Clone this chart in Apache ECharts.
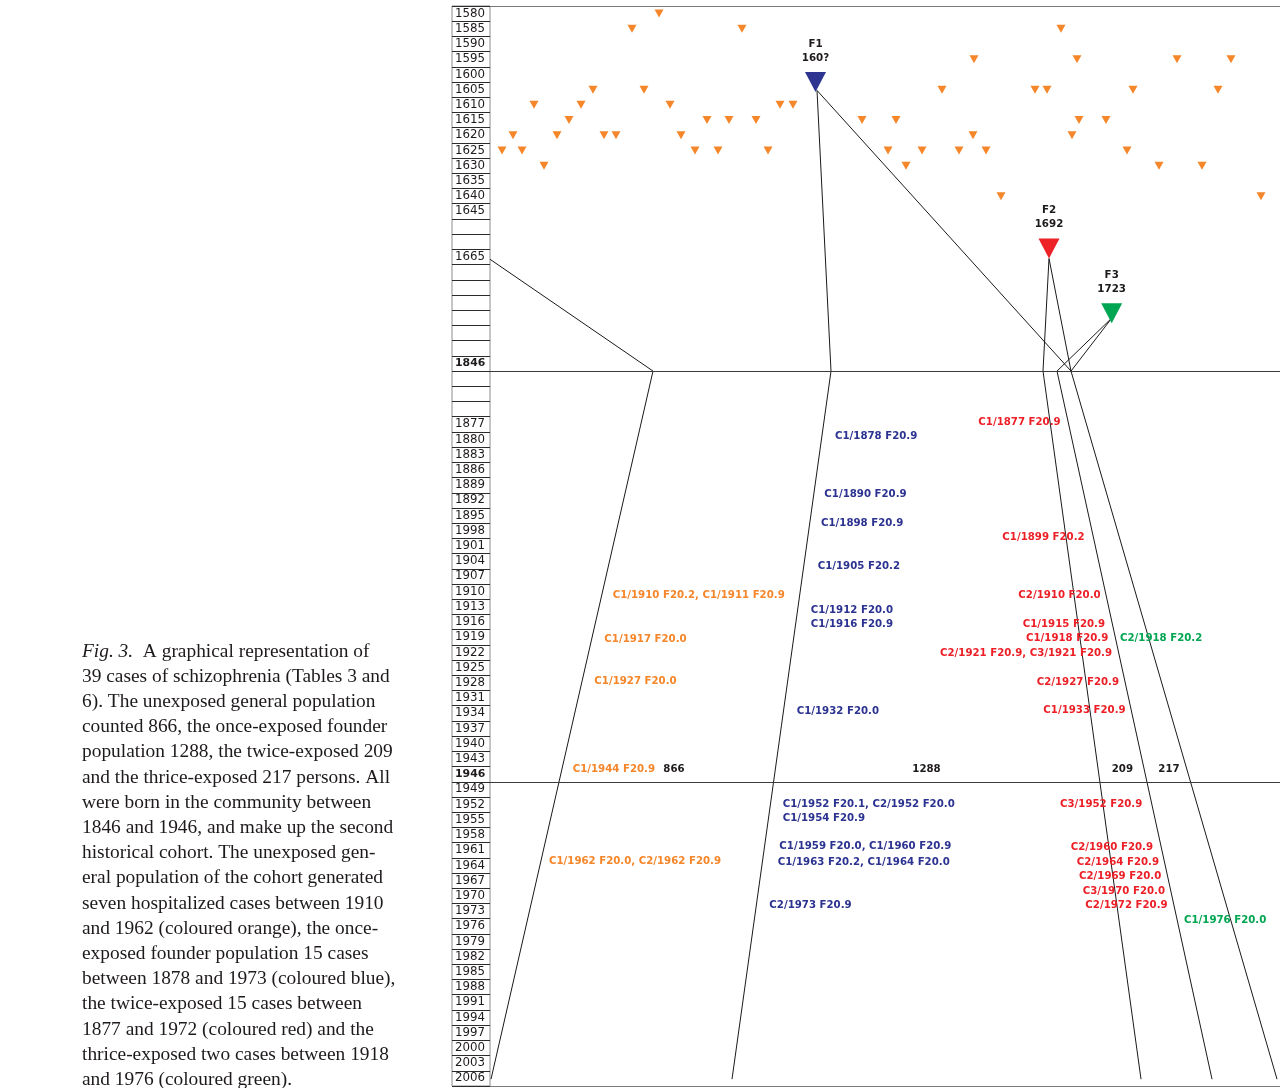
<!DOCTYPE html>
<html>
<head>
<meta charset="utf-8">
<script src="https://cdn.jsdelivr.net/npm/echarts@6/dist/echarts.min.js"></script>
<style>
html,body{margin:0;padding:0;background:#fff;}
#c{width:1280px;height:1088px;}
</style>
</head>
<body>
<div id="c"></div>
<script>
// ---- Row labels of the time column (blank = unlabelled row) ----
const yearLabels = ['1580','1585','1590','1595','1600','1605','1610','1615','1620','1625','1630','1635','1640','1645','','','1665','','','','','','','1846','','','','1877','1880','1883','1886','1889','1892','1895','1998','1901','1904','1907','1910','1913','1916','1919','1922','1925','1928','1931','1934','1937','1940','1943','1946','1949','1952','1955','1958','1961','1964','1967','1970','1973','1976','1979','1982','1985','1988','1991','1994','1997','2000','2003','2006'];
const boldYears = ['1846','1946'];

// ---- Ancestors (orange triangles): [horizontal position, row index] ----
const ancestors = [
  [169,0],
  [142,1],[252,1],[571,1],
  [484,3],[587,3],[687,3],[741,3],
  [103,5],[154,5],[452,5],[545,5],[557,5],[643,5],[728,5],
  [44,6],[91,6],[180,6],[290,6],[303,6],
  [79,7],[217,7],[239,7],[266,7],[372,7],[406,7],[589,7],[616,7],
  [23,8],[67,8],[114,8],[126,8],[191,8],[483,8],[582,8],
  [12,9],[32,9],[205,9],[228,9],[278,9],[398,9],[432,9],[469,9],[496,9],[637,9],
  [54,10],[416,10],[669,10],[712,10],
  [511,12],[771,12]
];

// ---- Founders ----
const founderNames = ['F1','F2','F3'];
const founderYears = ['160?','1692','1723'];
const founderPos = [[325.5,4.5],[559,15.45],[621.7,19.7]];
const founderColors = ['#2D3590','#EC2227','#00A651'];

// ---- Lineage lines: [horizontal position, row index] ----
const lineagePaths = [
  [[0,16.15],[163,23.5],[1,70.05]],        // unexposed population
  [[327,5.05],[341,23.5],[242,70.05]],     // F1 -> once exposed
  [[327,5.05],[581,23.5]],                 // F1 -> thrice
  [[559,16.1],[553,23.5]],                 // F2 -> twice
  [[559,16.1],[581,23.5]],                 // F2 -> thrice
  [[622,20.0],[567,23.5]],                 // F3 -> twice
  [[622,20.0],[581,23.5]],                 // F3 -> thrice
  [[553,23.5],[651,70.05]],
  [[567,23.5],[722,70.05]],
  [[581,23.5],[787,70.05]]
];

// ---- Cases: [horizontal position of text start, row index, text] ----
const unexposedCases = [
  [122.7,38.22,'C1/1910 F20.2, C1/1911 F20.9'],
  [114.3,41.11,'C1/1917 F20.0'],
  [104.3,43.92,'C1/1927 F20.0'],
  [82.7,49.66,'C1/1944 F20.9'],
  [59,55.75,'C1/1962 F20.0, C2/1962 F20.9']
];
const onceCases = [
  [345,27.81,'C1/1878 F20.9'],
  [334.3,31.6,'C1/1890 F20.9'],
  [331,33.51,'C1/1898 F20.9'],
  [327.7,36.31,'C1/1905 F20.2'],
  [320.7,39.21,'C1/1912 F20.0'],
  [320.7,40.13,'C1/1916 F20.9'],
  [306.7,45.85,'C1/1932 F20.0'],
  [292.7,51.98,'C1/1952 F20.1, C2/1952 F20.0'],
  [292.7,52.9,'C1/1954 F20.9'],
  [289.3,54.77,'C1/1959 F20.0, C1/1960 F20.9'],
  [287.7,55.77,'C1/1963 F20.2, C1/1964 F20.0'],
  [279.3,58.62,'C2/1973 F20.9']
];
const twiceCases = [
  [488.3,26.87,'C1/1877 F20.9'],
  [512.3,34.45,'C1/1899 F20.2'],
  [528.3,38.27,'C2/1910 F20.0'],
  [532.7,40.15,'C1/1915 F20.9'],
  [536,41.09,'C1/1918 F20.9'],
  [450,42.05,'C2/1921 F20.9, C3/1921 F20.9'],
  [546.7,43.96,'C2/1927 F20.9'],
  [553.3,45.83,'C1/1933 F20.9'],
  [570,51.98,'C3/1952 F20.9'],
  [580.7,54.83,'C2/1960 F20.9'],
  [586.7,55.77,'C2/1964 F20.9'],
  [589,56.71,'C2/1969 F20.0'],
  [592.7,57.68,'C3/1970 F20.0'],
  [595.3,58.6,'C2/1972 F20.9']
];
const thriceCases = [
  [630,41.09,'C2/1918 F20.2'],
  [694,59.59,'C1/1976 F20.0']
];
// ---- Population sizes (row 1946) ----
const populationCounts = [[173.3,49.66,'866'],[422.3,49.66,'1288'],[621.7,49.66,'209'],[668.3,49.66,'217']];

const caption = [
  '{i|Fig. 3.}  A graphical representation of',
  '39 cases of schizophrenia (Tables 3 and',
  '6). The unexposed general population',
  'counted 866, the once-exposed founder',
  'population 1288, the twice-exposed 209',
  'and the thrice-exposed 217 persons. All',
  'were born in the community between',
  '1846 and 1946, and make up the second',
  'historical cohort. The unexposed gen-',
  'eral population of the cohort generated',
  'seven hospitalized cases between 1910',
  'and 1962 (coloured orange), the once-',
  'exposed founder population 15 cases',
  'between 1878 and 1973 (coloured blue),',
  'the twice-exposed 15 cases between',
  '1877 and 1972 (coloured red) and the',
  'thrice-exposed two cases between 1918',
  'and 1976 (coloured green).'
];

const ORANGE = '#F5862A', BLUE = '#2B3290', RED = '#EC1F26', GREEN = '#00A651', INK = '#1e1a1b';
const LF = 'DejaVu Sans';
const caseFont = 10.2;

function caseSeries(name, arr, color) {
  return {
    name, type: 'scatter', xAxisIndex: 1, yAxisIndex: 1, silent: true, z: 5,
    symbolSize: 0.1, itemStyle: {color: 'rgba(0,0,0,0)', opacity: 1},
    data: arr.map(d => ({value: [d[0], d[1]], name: d[2]})),
    label: {show: true, position: 'right', distance: 0, formatter: '{b}', opacity: 1,
      color, fontFamily: LF, fontWeight: 'bold', fontSize: caseFont}
  };
}

const dividers = boldYears.map(y => yearLabels.indexOf(y) + 0.5);
const frameEdges = [-0.5, yearLabels.length - 0.5];

const chart = echarts.init(document.getElementById('c'), null, {renderer: 'canvas', width: 1280, height: 1088});
chart.setOption({
  animation: false,
  backgroundColor: '#fff',
  grid: [
    {left: 452, top: 6, width: 38, height: 1080, show: true, borderColor: '#8c8c8c', borderWidth: 1},
    {left: 490, top: 6, width: 790, height: 1080, show: false}
  ],
  xAxis: [
    {gridIndex: 0, type: 'value', show: false, min: 0, max: 1},
    {gridIndex: 1, type: 'value', show: false, min: 0, max: 790}
  ],
  yAxis: [
    {gridIndex: 0, type: 'category', inverse: true,
     data: yearLabels.map((_, i) => 'row' + i),
     axisLine: {show: false}, axisTick: {show: false},
     splitLine: {show: true, interval: 0, lineStyle: {color: '#2b2b2b', width: 1}},
     axisLabel: {inside: true, interval: 0, margin: 3, color: INK, fontFamily: LF, fontSize: 11.8,
       formatter: v => { const l = yearLabels[+v.slice(3)]; return boldYears.includes(l) ? '{b|' + l + '}' : l; },
       rich: {b: {fontWeight: 'bold', fontFamily: LF, fontSize: 10.9, color: INK}}}},
    {gridIndex: 1, type: 'value', inverse: true, min: -0.5, max: 70.5, show: false}
  ],
  graphic: [{
    type: 'text', left: 82, top: 639,
    style: {text: caption.join('\n'), fontFamily: 'Liberation Serif', fontSize: 19.4, lineHeight: 25.2, fill: INK,
      rich: {i: {fontStyle: 'italic', fontFamily: 'Liberation Serif', fontSize: 19.4, lineHeight: 25.2, fill: INK}}}
  }],
  series: [
    {type: 'lines', coordinateSystem: 'cartesian2d', xAxisIndex: 1, yAxisIndex: 1, polyline: true, silent: true, z: 3,
     lineStyle: {color: '#1a1a1a', width: 1, opacity: 1},
     data: lineagePaths.map(p => ({coords: p}))},
    {type: 'scatter', xAxisIndex: 1, yAxisIndex: 1, silent: true, z: 4,
     symbol: 'triangle', symbolRotate: 180, symbolSize: [9, 8],
     itemStyle: {color: ORANGE, opacity: 1}, data: ancestors,
     markLine: {silent: true, symbol: 'none', label: {show: false},
       lineStyle: {color: '#3a3a3a', width: 1.2, type: 'solid', opacity: 1},
       data: dividers.map(r => ({yAxis: r})).concat(frameEdges.map(r => ({yAxis: r, lineStyle: {color: '#7a7a7a', width: 1.2}})))}},
    {type: 'scatter', xAxisIndex: 1, yAxisIndex: 1, silent: true, z: 6,
     symbol: 'triangle', symbolRotate: 180, symbolSize: [21, 20],
     data: founderPos.map((p, i) => ({value: p, name: founderNames[i], year: founderYears[i], itemStyle: {color: founderColors[i], opacity: 1}})),
     label: {show: true, position: 'top', distance: 7, formatter: p => p.name + '\n' + p.data.year, opacity: 1,
       color: INK, fontFamily: LF, fontWeight: 'bold', fontSize: 10.3, lineHeight: 14, align: 'center'}},
    caseSeries('unexposed', unexposedCases, ORANGE),
    caseSeries('once', onceCases, BLUE),
    caseSeries('twice', twiceCases, RED),
    caseSeries('thrice', thriceCases, GREEN),
    caseSeries('counts', populationCounts, INK)
  ]
});
</script>
</body>
</html>
